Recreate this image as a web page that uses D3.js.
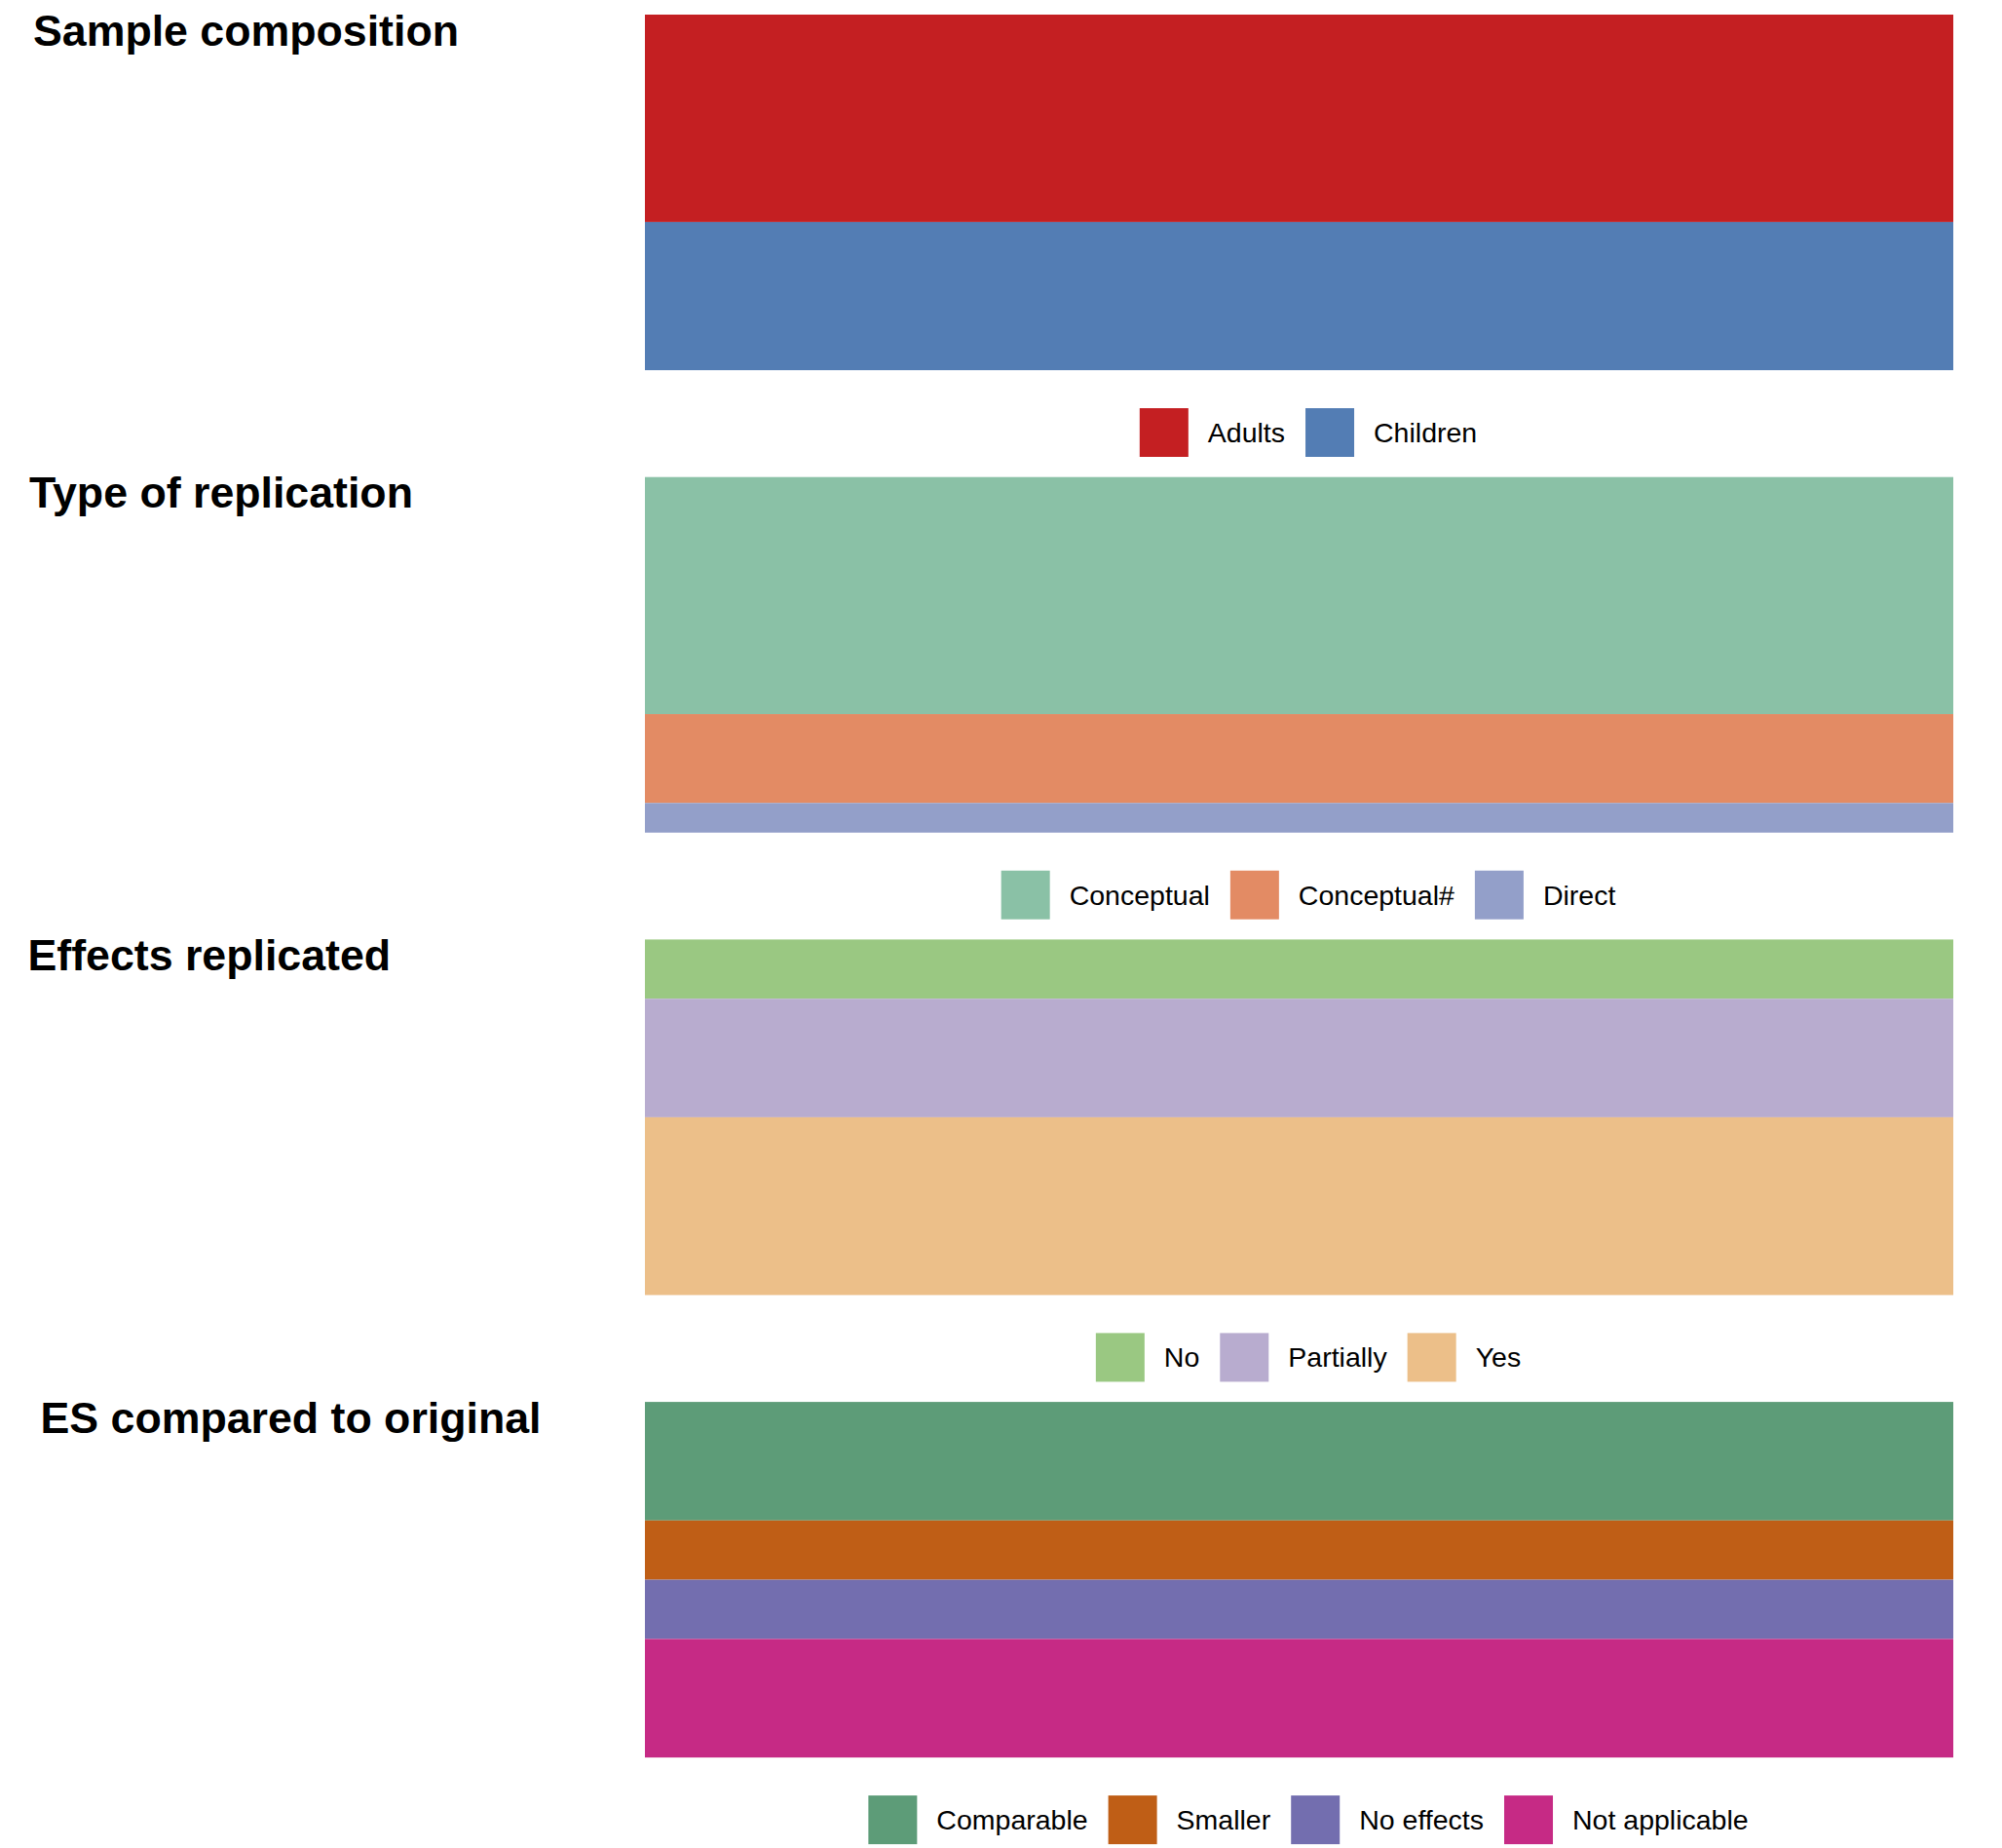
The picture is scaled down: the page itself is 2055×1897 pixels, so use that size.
<!DOCTYPE html>
<html>
<head>
<meta charset="utf-8">
<script src="https://cdn.jsdelivr.net/npm/d3@7"></script>
<style>
  html, body { margin: 0; padding: 0; background: #ffffff; }
  svg { display: block; }
  text { font-family: "Liberation Sans", Arial, Helvetica, sans-serif; fill: #000; }
</style>
</head>
<body>
<div id="chart"></div>
<script>
// ---- Data (counts of studies, N = 12) ----
const panelTitles = ["Sample composition", "Type of replication", "Effects replicated", "ES compared to original"];

const sampleCategories = ["Adults", "Children"];
const sampleValues = [7, 5];
const sampleColors = ["#C41F22", "#537DB4"];

const typeCategories = ["Conceptual", "Conceptual#", "Direct"];
const typeValues = [8, 3, 1];
const typeColors = ["#8AC1A6", "#E38B64", "#939FC9"];

const effectsCategories = ["No", "Partially", "Yes"];
const effectsValues = [2, 4, 6];
const effectsColors = ["#9AC882", "#B8ACCF", "#ECBF89"];

const esCategories = ["Comparable", "Smaller", "No effects", "Not applicable"];
const esValues = [4, 2, 2, 4];
const esColors = ["#5D9C78", "#BF5E16", "#736EAF", "#C62A85"];

const panels = [
  { title: panelTitles[0], cats: sampleCategories, vals: sampleValues, cols: sampleColors },
  { title: panelTitles[1], cats: typeCategories, vals: typeValues, cols: typeColors },
  { title: panelTitles[2], cats: effectsCategories, vals: effectsValues, cols: effectsColors },
  { title: panelTitles[3], cats: esCategories, vals: esValues, cols: esColors }
];

// ---- Layout ----
const W = 2055, H = 1897;
const barLeft = 662, barRight = 2005;
const firstTop = 15, panelStep = 474.7, barH = 365;
const titleX = [34, 30, 28.5, 41.5];
const titleDy = 31.5;
const legendOffset = 404, keySize = 50, keyGap = 20, itemGap = 21;
const legendCenter = 1343;

const svg = d3.select("#chart").append("svg")
  .attr("width", W).attr("height", H)
  .attr("viewBox", `0 0 ${W} ${H}`);

const x = d3.scaleLinear().domain([0, 1]).range([barLeft, barRight]);

panels.forEach((p, i) => {
  const top = firstTop + i * panelStep;
  const total = d3.sum(p.vals);
  const y = d3.scaleLinear().domain([0, total]).range([top, top + barH]);
  const color = d3.scaleOrdinal().domain(p.cats).range(p.cols);

  const stackData = [Object.fromEntries(p.cats.map((c, j) => [c, p.vals[j]]))];
  const series = d3.stack().keys(p.cats)(stackData);

  const g = svg.append("g").attr("class", "panel");

  g.selectAll("rect.seg")
    .data(series)
    .join("rect")
    .attr("class", "seg")
    .attr("x", x(0))
    .attr("width", x(1) - x(0))
    .attr("y", d => y(d[0][0]))
    .attr("height", d => y(d[0][1]) - y(d[0][0]))
    .attr("fill", d => color(d.key));

  g.append("text")
    .attr("x", titleX[i])
    .attr("y", top + titleDy)
    .attr("font-size", 44.7)
    .attr("font-weight", "bold")
    .text(p.title);

  const ly = top + legendOffset;
  const lg = g.append("g").attr("class", "legend");
  const items = lg.selectAll("g.item")
    .data(p.cats)
    .join("g").attr("class", "item");
  items.append("rect")
    .attr("width", keySize).attr("height", keySize)
    .attr("y", ly)
    .attr("fill", d => color(d));
  const labels = items.append("text")
    .attr("y", ly + keySize / 2)
    .attr("dy", "0.35em")
    .attr("font-size", 28.5)
    .text(d => d);

  const widths = [];
  labels.each(function () { widths.push(this.getComputedTextLength()); });
  const totalW = d3.sum(widths) + p.cats.length * (keySize + keyGap) + (p.cats.length - 1) * itemGap;
  let cx = legendCenter - totalW / 2;
  items.each(function (d, j) {
    const it = d3.select(this);
    it.select("rect").attr("x", cx);
    it.select("text").attr("x", cx + keySize + keyGap);
    cx += keySize + keyGap + widths[j] + itemGap;
  });
});
</script>
</body>
</html>
